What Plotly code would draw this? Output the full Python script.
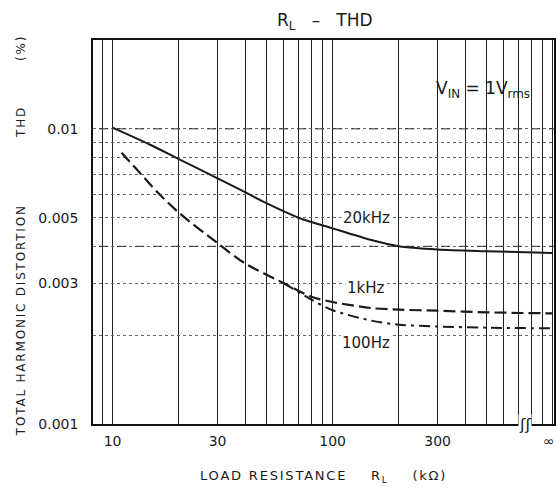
import numpy as np
import plotly.graph_objects as go

# ---- data ----
r_20k = [10, 15, 20, 30, 40, 50, 70, 100, 150, 200, 300, 500, 1000]
thd_20k = [0.0101, 0.0088, 0.0079, 0.0068, 0.0061, 0.0056, 0.0050, 0.0046, 0.0042, 0.0040, 0.0039, 0.00385, 0.0038]

r_1k = [11, 14, 16, 20, 30, 40, 60, 80, 100, 150, 200, 300, 500, 1000]
thd_1k = [0.0083, 0.0068, 0.0061, 0.0052, 0.0041, 0.0035, 0.0030, 0.00270, 0.00259, 0.00247, 0.00244, 0.00242, 0.00239, 0.00237]

r_100 = [60, 80, 100, 150, 200, 300, 500, 1000]
thd_100 = [0.0030, 0.00264, 0.00243, 0.00224, 0.00217, 0.00214, 0.00212, 0.00211]

x_grid = [9, 10, 20, 30, 40, 50, 60, 70, 80, 90, 100, 200, 300, 400, 500, 600, 700, 800, 900, 1000]
x_labels = {10: "10", 30: "30", 100: "100", 300: "300", 1000: "∞"}
y_grid = [0.001, 0.002, 0.003, 0.004, 0.005, 0.006, 0.007, 0.008, 0.009, 0.01]
y_labels = {0.001: "0.001", 0.003: "0.003", 0.005: "0.005", 0.01: "0.01"}
y_strong = [0.004, 0.01]
break_at = 750

curve_labels = [("20kHz", 142, 0.00497), ("1kHz", 142, 0.00288), ("100Hz", 142, 0.00188)]

FONT = "DejaVu Sans"
INK = "#1a1a1a"
NB = "\u00a0"


def spaced(txt, ls):
    return f'<span style="letter-spacing:{ls}px">{txt}</span>'


fig = go.Figure()

# emphasized horizontal grid lines
for yv in y_strong:
    fig.add_trace(go.Scatter(x=[x_grid[0] * 0.8, x_grid[-1] * 1.2], y=[yv, yv], mode="lines",
                             line=dict(color="#333", width=1, dash="dash"),
                             hoverinfo="skip", showlegend=False))

fig.add_trace(go.Scatter(x=r_20k, y=thd_20k, mode="lines", name="20kHz",
                         line=dict(color=INK, width=2, shape="spline", smoothing=0.8)))
fig.add_trace(go.Scatter(x=r_100, y=thd_100, mode="lines", name="100Hz",
                         line=dict(color=INK, width=2, dash="11px,5px,3px,5px", shape="spline", smoothing=0.8)))
fig.add_trace(go.Scatter(x=r_1k, y=thd_1k, mode="lines", name="1kHz",
                         line=dict(color=INK, width=2.2, dash="12px,5px", shape="spline", smoothing=0.8)))

annotations = []
for text, xv, yv in curve_labels:
    annotations.append(dict(x=np.log10(xv), y=np.log10(yv), xref="x", yref="y", text=text,
                            showarrow=False, bgcolor="white", borderpad=1,
                            xanchor="center", yanchor="middle",
                            font=dict(family=FONT, size=15, color=INK)))

# break mark on the x axis
annotations.append(dict(x=np.log10(break_at), y=np.log10(y_grid[0]), xref="x", yref="y", text="ʃʃ",
                        showarrow=False, bgcolor="white", borderpad=0,
                        xanchor="center", yanchor="middle",
                        font=dict(family=FONT, size=16, color=INK)))

# infinity tick label
annotations.append(dict(x=np.log10(1000), y=0, xref="x", yref="paper", text=x_labels[1000],
                        showarrow=False, xshift=-4, xanchor="center", yanchor="top", yshift=-7,
                        font=dict(family=FONT, size=14, color=INK)))

annotations.append(dict(x=0.845, y=0.87, xref="paper", yref="paper",
                        xanchor="center", yanchor="middle",
                        text="V<sub>IN</sub> = 1V<sub>rms</sub>", showarrow=False,
                        font=dict(family=FONT, size=17, color=INK)))

annotations.append(dict(x=-0.1555, y=0.49, xref="paper", yref="paper", textangle=-90,
                        xanchor="center", yanchor="middle",
                        text=spaced("TOTAL HARMONIC DISTORTION" + NB * 12 + "THD" + NB * 8 + "(%)", 1.8),
                        showarrow=False, font=dict(family=FONT, size=12, color=INK)))

annotations.append(dict(x=0.5, y=-0.138, xref="paper", yref="paper",
                        xanchor="center", yanchor="middle",
                        text=spaced("LOAD" + NB + "RESISTANCE" + NB * 4 + "R<sub>L</sub>" + NB * 4 + "(kΩ)", 1.8),
                        showarrow=False, font=dict(family=FONT, size=13, color=INK)))

fig.update_layout(
    width=560, height=494,
    margin=dict(l=93, r=4, t=40, b=70),
    paper_bgcolor="white", plot_bgcolor="white",
    showlegend=False,
    title=dict(text="R<sub>L</sub>" + NB * 3 + "–" + NB * 3 + "THD", x=0.58, xanchor="center",
               y=1 - 20 / 494, yanchor="middle", yref="container",
               font=dict(family=FONT, size=17, color=INK)),
    annotations=annotations,
)

fig.update_xaxes(type="log", range=[np.log10(8.15), np.log10(1014)],
                 tickvals=x_grid,
                 ticktext=[x_labels.get(v, "") if v != 1000 else "" for v in x_grid],
                 showgrid=True, gridcolor="#222", gridwidth=1,
                 showline=True, mirror=True, linecolor="#111", linewidth=1.5,
                 ticks="", ticklabelstandoff=3,
                 tickfont=dict(family=FONT, size=14, color=INK), zeroline=False)
fig.update_yaxes(type="log", range=[-3, np.log10(0.02)],
                 tickvals=y_grid, ticktext=[y_labels.get(v, "") for v in y_grid],
                 showgrid=True, gridcolor="#666", gridwidth=1, griddash="dot",
                 showline=True, mirror=True, linecolor="#111", linewidth=1.5,
                 ticks="", ticklabelstandoff=10,
                 tickfont=dict(family=FONT, size=14, color=INK), zeroline=False)

fig.write_html("out.html", config={"displayModeBar": False},
               post_script="document.body.style.margin='0';document.body.style.overflow='hidden';")
